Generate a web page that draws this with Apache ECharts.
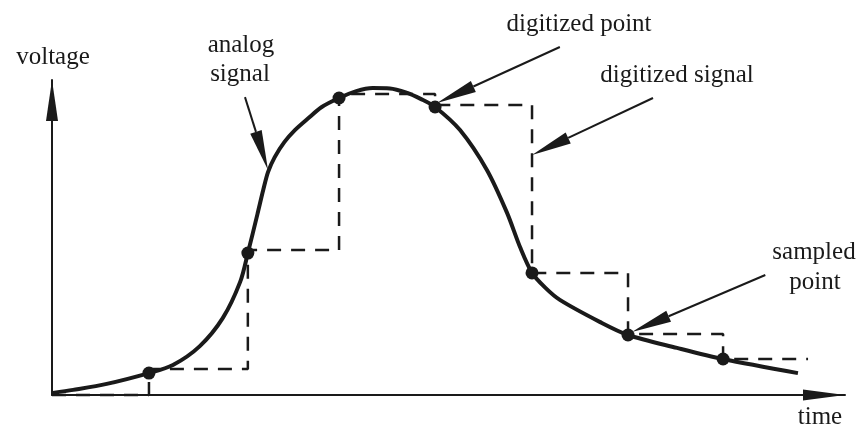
<!DOCTYPE html>
<html>
<head>
<meta charset="utf-8">
<script src="https://cdn.jsdelivr.net/npm/echarts@6/dist/echarts.min.js"></script>
<style>
  html, body { margin: 0; padding: 0; background: #fff; }
  #main { width: 862px; height: 429px; }
</style>
</head>
<body>
<div id="main"></div>
<script>
// time in sample periods, voltage in arbitrary units
var curveT = [0.01, 0.22, 0.57, 1.01, 1.26, 1.54, 1.78, 1.96, 2.04, 2.14, 2.20, 2.25, 2.32, 2.42, 2.53, 2.66, 2.81, 2.99, 3.17, 3.34, 3.52, 3.70, 3.84, 3.99, 4.25, 4.53, 4.74, 4.875, 5.0, 5.14, 5.29, 5.71, 6.0, 6.51, 6.99, 7.77];
var curveV = [0.7, 1.7, 3.7, 7.3, 10, 16.3, 25.7, 37.7, 47.3, 60.3, 68.3, 74.3, 79.3, 84.3, 88.3, 92, 96, 99, 101.3, 102.3, 102.2, 100.7, 98.7, 96, 88.3, 75, 60.7, 49.3, 40.7, 35.7, 31.7, 24.3, 20, 15.7, 12, 7.3];

// sampled points on the analog signal
var sampleT = [1.01, 2.04, 2.99, 3.99, 5.0, 6.0, 6.99];
var sampleV = [7.3, 47.3, 99, 96, 40.7, 20, 12];

// digitized (held) levels
var stepT = [0, 1.01, 2.04, 2.99, 3.99, 5.0, 6.0, 6.99, 7.875];
var stepV = [0, 8.7, 48.3, 100.3, 96.7, 40.7, 20.3, 12, 12];

// annotation arrows: tail -> tip
var noteFromT = [2.01, 5.29, 6.26, 7.43];
var noteFromV = [99.3, 116, 99, 40];
var noteToT = [2.25, 4.01, 5.0, 6.04];
var noteToV = [75, 97.3, 80, 21];

var ink = '#1a1a1a';
var serif = 'Liberation Serif';

function pairs(xs, ys) {
  return xs.map(function (x, i) { return [x, ys[i]]; });
}

var arrowData = noteFromT.map(function (t, i) {
  return [t, noteFromV[i], noteToT[i], noteToV[i]];
});

function label(text, x, y) {
  return {
    type: 'text', x: x, y: y, silent: true,
    style: { text: text, fill: ink, font: '25px "' + serif + '"', align: 'center', verticalAlign: 'middle' }
  };
}

var myChart = echarts.init(document.getElementById('main'));

var axisBase = {
  type: 'value',
  splitLine: { show: false },
  axisTick: { show: false },
  axisLabel: { show: false }
};

var option = {
  backgroundColor: '#fff',
  animation: false,
  grid: { left: 52, right: 17, top: 80, bottom: 34 },
  xAxis: Object.assign({}, axisBase, {
    min: 0,
    max: 8.26,
    axisLine: {
      show: true,
      symbol: ['none', 'triangle'],
      symbolSize: [11, 42],
      symbolOffset: [0, -21],
      lineStyle: { color: ink, width: 2 }
    }
  }),
  yAxis: Object.assign({}, axisBase, {
    min: 0,
    max: 105,
    axisLine: {
      show: true,
      symbol: ['none', 'triangle'],
      symbolSize: [12, 41],
      symbolOffset: [0, -20.5],
      lineStyle: { color: ink, width: 2 }
    }
  }),
  series: [
    {
      name: 'digitized signal',
      type: 'line',
      step: 'end',
      data: pairs(stepT, stepV),
      showSymbol: false,
      clip: false,
      z: 2,
      lineStyle: { color: ink, width: 2.5, type: [14, 10] }
    },
    {
      name: 'analog signal',
      type: 'line',
      smooth: 0.3,
      data: pairs(curveT, curveV),
      showSymbol: false,
      clip: false,
      z: 3,
      lineStyle: { color: ink, width: 4 }
    },
    {
      name: 'sampled point',
      type: 'scatter',
      data: pairs(sampleT, sampleV),
      symbolSize: 13,
      z: 4,
      itemStyle: { color: ink, opacity: 1 }
    },
    {
      name: 'notes',
      type: 'custom',
      data: arrowData,
      z: 5,
      silent: true,
      renderItem: function (params, api) {
        var a = api.coord([api.value(0), api.value(1)]);
        var b = api.coord([api.value(2), api.value(3)]);
        var dx = b[0] - a[0], dy = b[1] - a[1];
        var len = Math.sqrt(dx * dx + dy * dy);
        var ux = dx / len, uy = dy / len;
        var hl = 40, hw = 6;
        var bx = b[0] - ux * hl, by = b[1] - uy * hl;
        return {
          type: 'group',
          children: [
            { type: 'line', shape: { x1: a[0], y1: a[1], x2: bx, y2: by }, style: { stroke: ink, lineWidth: 2 } },
            { type: 'polygon', shape: { points: [[b[0], b[1]], [bx - uy * hw, by + ux * hw], [bx + uy * hw, by - ux * hw]] }, style: { fill: ink } }
          ]
        };
      }
    }
  ],
  graphic: [
    label('voltage', 53, 57),
    label('analog', 241, 45),
    label('signal', 240, 74),
    label('digitized point', 579, 24),
    label('digitized signal', 677, 75),
    label('sampled', 814, 252),
    label('point', 815, 282),
    label('time', 820, 417)
  ]
};

myChart.setOption(option);
</script>
</body>
</html>
